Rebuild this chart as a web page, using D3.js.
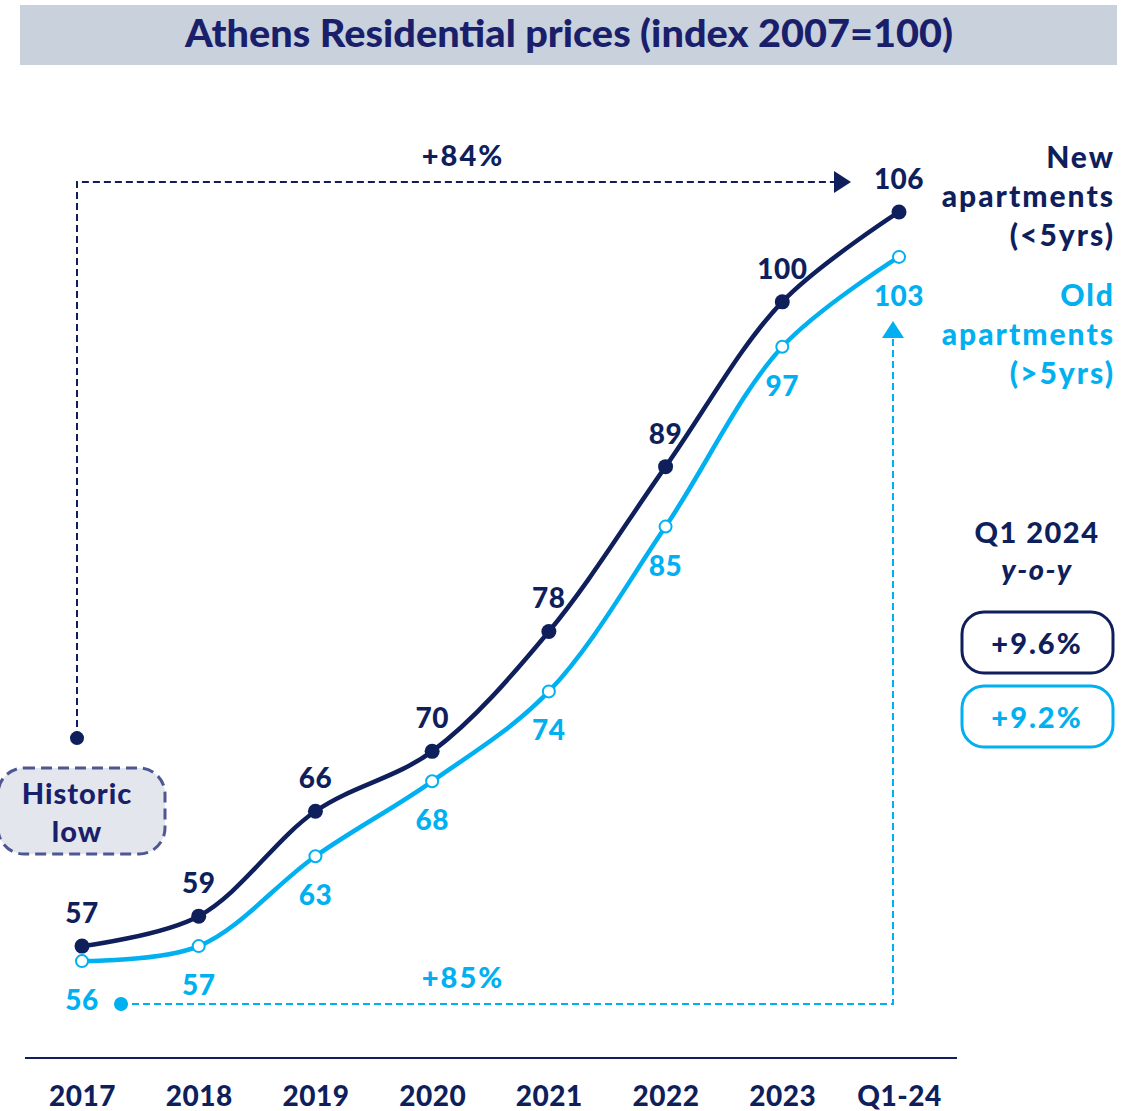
<!DOCTYPE html>
<html>
<head>
<meta charset="utf-8">
<script src="https://cdn.jsdelivr.net/npm/d3@7"></script>
<style>
  body { margin: 0; background: #fff; }
  text { font-family: Lato, "Open Sans", sans-serif; font-weight: 900; }
</style>
</head>
<body>
<div id="chart"></div>
<script>
// chart data
const periods = ["2017", "2018", "2019", "2020", "2021", "2022", "2023", "Q1-24"];
const newApts = [57, 59, 66, 70, 78, 89, 100, 106];
const oldApts = [56, 57, 63, 68, 74, 85, 97, 103];
const yoyLabels = ["+9.6%", "+9.2%"];

const navy = "#0f1f5c";
const blue = "#00b0f0";

const svg = d3.select('#chart').append('svg')
    .attr('width', 1125)
    .attr('height', 1111);

// scales
const x = d3.scalePoint().domain(periods).range([82, 899]);
const y = d3.scaleLinear().domain([50, 110]).range([1051, 152]);

// title band
svg.append('rect')
    .attr('x', 20).attr('y', 5)
    .attr('width', 1097).attr('height', 60)
    .style('fill', '#c9d1dd');
svg.append('text')
    .attr('x', 569).attr('y', 47)
    .attr('text-anchor', 'middle')
    .attr('textLength', 768)
    .attr('lengthAdjust', 'spacingAndGlyphs')
    .style('font-size', '37px')
    .style('fill', '#1a1f6b')
    .text('Athens Residential prices (index 2007=100)');

// x axis
const axis = svg.append('g')
    .attr('transform', 'translate(0,1058)')
    .call(d3.axisBottom(x).tickSize(0).tickPadding(28));
axis.select('.domain').remove();
axis.selectAll('text')
    .style('font-size', '28px')
    .style('font-family', 'Lato, sans-serif')
    .style('font-weight', 900)
    .style('letter-spacing', '0.5px')
    .style('fill', navy);
svg.append('line')
    .attr('x1', 25).attr('x2', 957)
    .attr('y1', 1058).attr('y2', 1058)
    .style('stroke', navy)
    .style('stroke-width', 2);

// "+84%" dashed bracket (new apartments)
const yTop = 182;
svg.append('path')
    .attr('d', `M77,${y(57) - 208}V${yTop}H836`)
    .style('fill', 'none')
    .style('stroke', navy)
    .style('stroke-width', 2)
    .style('stroke-dasharray', '7,4');
svg.append('circle')
    .attr('cx', 77).attr('cy', y(57) - 208).attr('r', 7)
    .style('fill', navy);
svg.append('path')
    .attr('d', `M834,${yTop - 11}L851,${yTop}L834,${yTop + 11}Z`)
    .style('fill', navy);
svg.append('text')
    .attr('x', 463).attr('y', 166)
    .attr('text-anchor', 'middle')
    .style('font-size', '29px')
    .style('letter-spacing', '2px')
    .style('fill', navy)
    .text('+84%');

// "+85%" dashed bracket (old apartments)
const yBot = 1004;
svg.append('path')
    .attr('d', `M121,${yBot}H893V338`)
    .style('fill', 'none')
    .style('stroke', blue)
    .style('stroke-width', 2)
    .style('stroke-dasharray', '7,4');
svg.append('circle')
    .attr('cx', 121).attr('cy', yBot).attr('r', 7)
    .style('fill', blue);
svg.append('path')
    .attr('d', 'M882,338L893,321L904,338Z')
    .style('fill', blue);
svg.append('text')
    .attr('x', 463).attr('y', 988)
    .attr('text-anchor', 'middle')
    .style('font-size', '29px')
    .style('letter-spacing', '2px')
    .style('fill', blue)
    .text('+85%');

// historic low box
svg.append('rect')
    .attr('x', -2).attr('y', 768)
    .attr('width', 167).attr('height', 86)
    .attr('rx', 26)
    .style('fill', '#e3e7ed')
    .style('stroke', '#4f5792')
    .style('stroke-width', 3)
    .style('stroke-dasharray', '11,6');
['Historic', 'low'].forEach((t, i) => {
    svg.append('text')
        .attr('x', 77).attr('y', 804 + i * 38)
        .attr('text-anchor', 'middle')
        .style('font-size', '29px')
        .style('letter-spacing', '1px')
        .style('fill', '#1a1f6b')
        .text(t);
});

// lines
const line = d3.line()
    .x((d, i) => x(periods[i]))
    .y(d => y(d))
    .curve(d3.curveCatmullRom.alpha(0.5));

svg.append('path')
    .datum(oldApts)
    .attr('d', line)
    .style('fill', 'none')
    .style('stroke', blue)
    .style('stroke-width', 4.5);
svg.append('path')
    .datum(newApts)
    .attr('d', line)
    .style('fill', 'none')
    .style('stroke', navy)
    .style('stroke-width', 4.5);

// markers
svg.selectAll('.old-dot')
    .data(oldApts)
    .enter().append('circle')
    .attr('cx', (d, i) => x(periods[i]))
    .attr('cy', d => y(d))
    .attr('r', 6)
    .style('fill', '#fff')
    .style('stroke', blue)
    .style('stroke-width', 2);
svg.selectAll('.new-dot')
    .data(newApts)
    .enter().append('circle')
    .attr('cx', (d, i) => x(periods[i]))
    .attr('cy', d => y(d))
    .attr('r', 7.5)
    .style('fill', navy);

// value labels
svg.selectAll('.new-label')
    .data(newApts)
    .enter().append('text')
    .attr('x', (d, i) => x(periods[i]))
    .attr('y', d => y(d) - 23)
    .attr('text-anchor', 'middle')
    .style('font-size', '28px')
    .style('letter-spacing', '0.5px')
    .style('fill', navy)
    .text(d => d);
svg.selectAll('.old-label')
    .data(oldApts)
    .enter().append('text')
    .attr('x', (d, i) => x(periods[i]))
    .attr('y', d => y(d) + 49)
    .attr('text-anchor', 'middle')
    .style('font-size', '28px')
    .style('letter-spacing', '0.5px')
    .style('fill', blue)
    .text(d => d);

// legend
const legendNew = ['New', 'apartments', '(<5yrs)'];
const legendOld = ['Old', 'apartments', '(>5yrs)'];
legendNew.forEach((t, i) => {
    svg.append('text')
        .attr('x', 1115).attr('y', 168 + i * 39)
        .attr('text-anchor', 'end')
        .style('font-size', '30px')
        .style('letter-spacing', '2px')
        .style('fill', navy)
        .text(t);
});
legendOld.forEach((t, i) => {
    svg.append('text')
        .attr('x', 1115).attr('y', 306 + i * 39)
        .attr('text-anchor', 'end')
        .style('font-size', '30px')
        .style('letter-spacing', '2px')
        .style('fill', blue)
        .text(t);
});

// y-o-y boxes
svg.append('text')
    .attr('x', 1037).attr('y', 543)
    .attr('text-anchor', 'middle')
    .style('font-size', '29px')
    .style('letter-spacing', '1.5px')
    .style('fill', navy)
    .text('Q1 2024');
svg.append('text')
    .attr('x', 1037).attr('y', 580)
    .attr('text-anchor', 'middle')
    .style('font-size', '29px')
    .style('letter-spacing', '1.5px')
    .style('font-style', 'italic')
    .style('fill', navy)
    .text('y-o-y');

[[navy, 612], [blue, 686]].forEach(([c, top], i) => {
    svg.append('rect')
        .attr('x', 962).attr('y', top)
        .attr('width', 151).attr('height', 61)
        .attr('rx', 22)
        .style('fill', '#fff')
        .style('stroke', c)
        .style('stroke-width', 3);
    svg.append('text')
        .attr('x', 1037).attr('y', top + 42)
        .attr('text-anchor', 'middle')
        .style('font-size', '29px')
        .style('letter-spacing', '2px')
        .style('fill', c)
        .text(yoyLabels[i]);
});
</script>
</body>
</html>
